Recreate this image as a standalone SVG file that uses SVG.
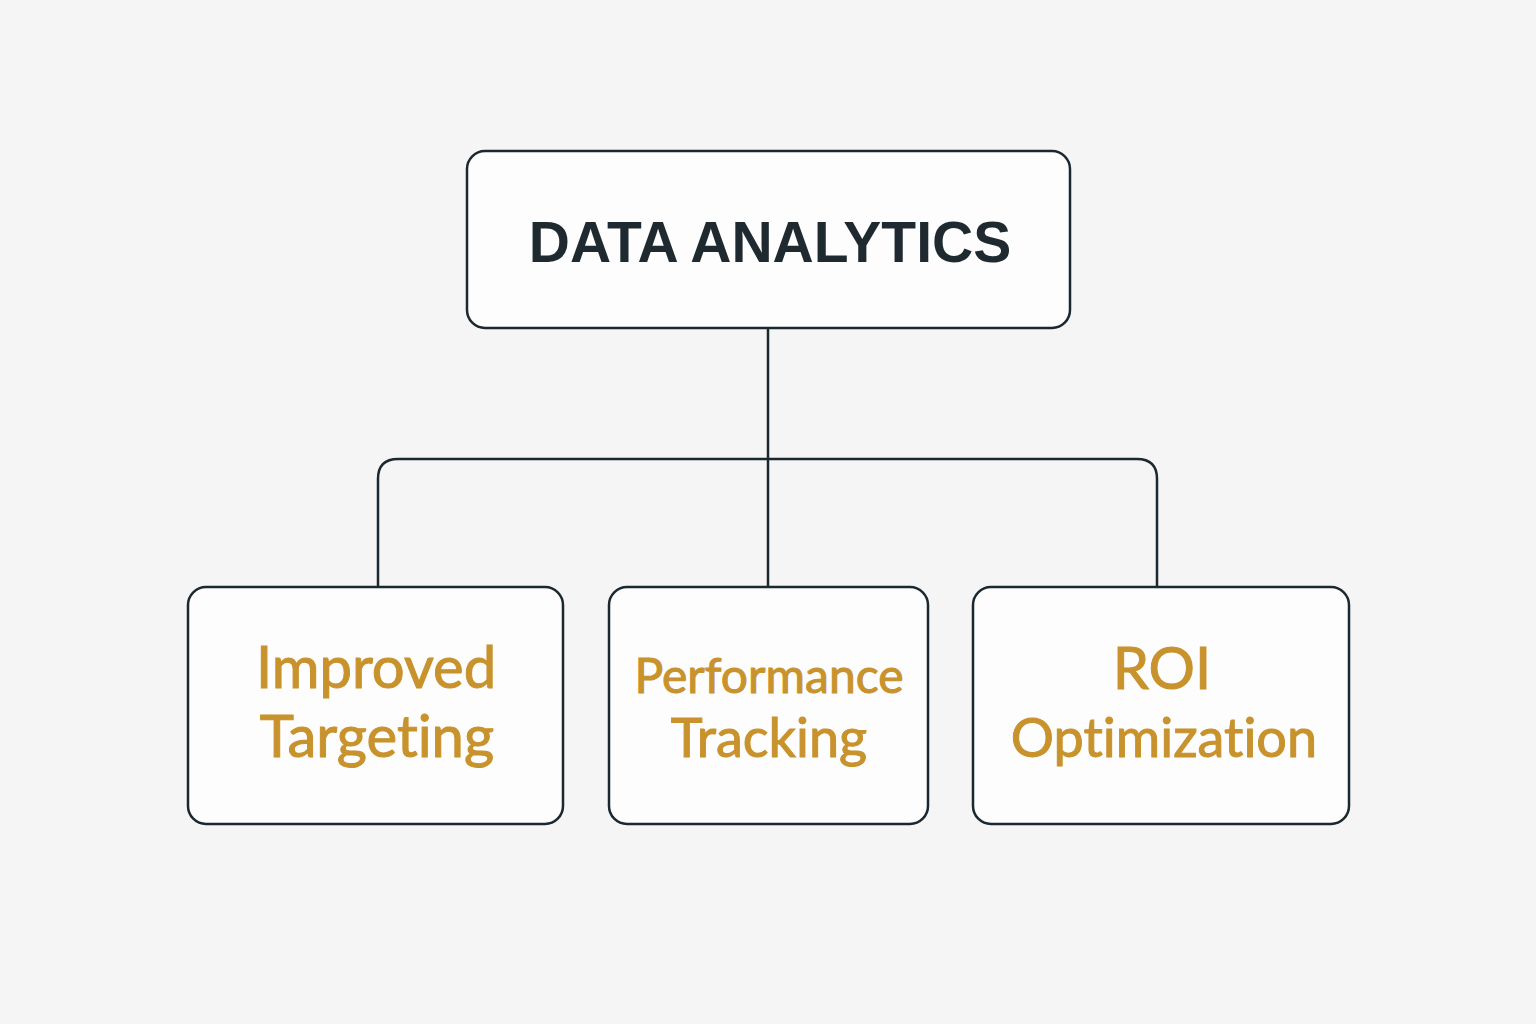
<svg xmlns="http://www.w3.org/2000/svg" width="1536" height="1024" viewBox="0 0 1536 1024">
<style>
.box{fill:#fdfdfd;stroke:#1c2830;stroke-width:2.5}
.conn{fill:none;stroke:#1c2830;stroke-width:2.5}
.title{font-family:"Liberation Sans",Arial,sans-serif;font-weight:bold;font-size:57px;fill:#1f2a30;letter-spacing:0px}
.lbl{font-family:Lato,"Noto Sans",sans-serif;font-size:58px;fill:#c8922c;stroke:#c8922c;stroke-width:1;text-anchor:middle;font-variant-ligatures:none;font-feature-settings:"liga" 0}
</style>
<rect width="1536" height="1024" fill="#f5f5f5"/>
<g id="connectors">
<path class="conn" d="M768 328 V586"/>
<path class="conn" d="M378 586 V479 Q378 459 398 459 H1137 Q1157 459 1157 479 V586"/>
</g>
<g id="node-data-analytics">
<rect class="box" x="467" y="151" width="603" height="177" rx="18"/>
<text class="title" x="770" y="262" text-anchor="middle">DATA ANALYTICS</text>
</g>
<g id="node-improved-targeting">
<rect class="box" x="188" y="587" width="375" height="237" rx="18"/>
<text class="lbl" x="376" y="688">Improved</text>
<text class="lbl" x="377" y="757">Targeting</text>
</g>
<g id="node-performance-tracking">
<rect class="box" x="609" y="587" width="319" height="237" rx="18"/>
<text class="lbl" x="769" y="693" style="font-size:48px">Performance</text>
<text class="lbl" x="769" y="757" style="font-size:54px">Tracking</text>
</g>
<g id="node-roi-optimization">
<rect class="box" x="973" y="587" width="376" height="237" rx="18"/>
<text class="lbl" x="1162" y="689">ROI</text>
<text class="lbl" x="1164" y="757" style="font-size:54px">Optimization</text>
</g>
</svg>
